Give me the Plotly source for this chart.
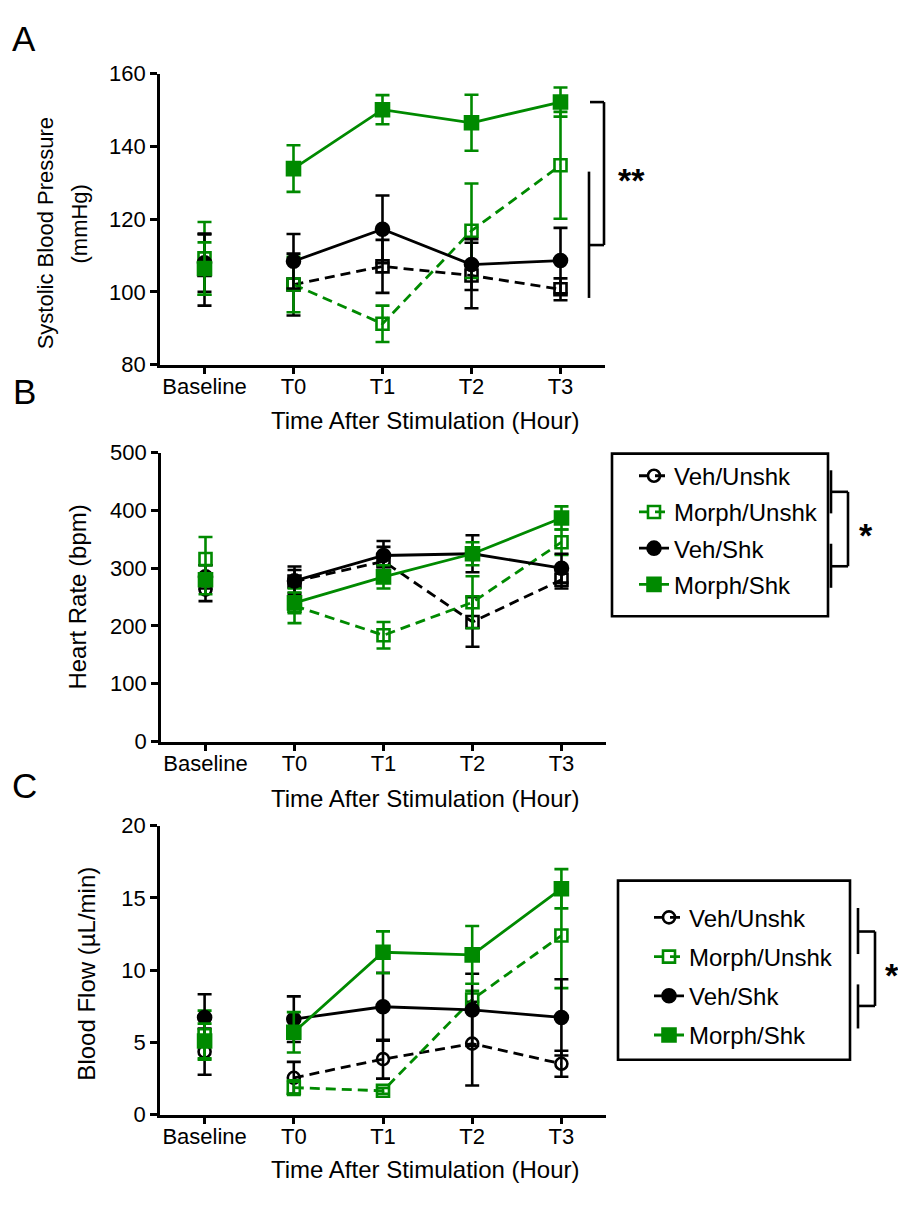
import plotly.graph_objects as go

W, H = 898, 1205
def fx(px):
    return px / W
def fy(py):
    return 1 - py / H

FONT = "Liberation Sans, Arial, sans-serif"

categories = ["Baseline", "T0", "T1", "T2", "T3"]
series = ["Veh/Unshk", "Morph/Unshk", "Veh/Shk", "Morph/Shk"]

# Panel A: Systolic blood pressure (mmHg), mean and SEM
sbp_veh_unshk = [106.0, 102.0, 107.0, 104.5, 100.7]
sbp_veh_unshk_err = [9.8, 8.5, 7.3, 9.0, 3.0]
sbp_morph_unshk = [109.2, 102.0, 91.2, 116.8, 134.8]
sbp_morph_unshk_err = [10.0, 7.6, 5.0, 13.0, 14.7]
sbp_veh_shk = [108.0, 108.4, 117.2, 107.5, 108.6]
sbp_veh_shk_err = [8.0, 7.5, 9.3, 7.0, 9.0]
sbp_morph_shk = [106.4, 133.9, 150.1, 146.5, 152.2]
sbp_morph_shk_err = [7.2, 6.4, 4.0, 7.7, 4.0]

# Panel B: Heart rate (bpm)
hr_veh_unshk = [263, 277, 312, 207, 280]
hr_veh_unshk_err = [20, 20, 25, 43, 15]
hr_morph_unshk = [316, 235, 184, 241, 345]
hr_morph_unshk_err = [38, 30, 23, 45, 22]
hr_veh_shk = [285, 278, 322, 325, 300]
hr_veh_shk_err = [20, 25, 25, 32, 25]
hr_morph_shk = [280, 240, 285, 325, 387]
hr_morph_shk_err = [25, 18, 20, 20, 20]

# Panel C: Blood flow (uL/min)
bf_veh_unshk = [4.36, 2.55, 3.84, 4.92, 3.52]
bf_veh_unshk_err = [1.6, 1.1, 1.35, 2.9, 0.9]
bf_morph_unshk = [5.5, 1.87, 1.65, 7.97, 12.4]
bf_morph_unshk_err = [1.7, 0.5, 0.2, 0.6, 3.64]
bf_veh_shk = [6.73, 6.61, 7.47, 7.25, 6.73]
bf_veh_shk_err = [1.6, 1.58, 2.35, 2.5, 2.64]
bf_morph_shk = [5.1, 5.7, 11.24, 11.06, 15.64]
bf_morph_shk_err = [1.2, 1.4, 1.45, 2.0, 1.36]

GREEN = "#008a00"
BLACK = "#000000"
styles = {
    "Veh/Unshk": dict(color=BLACK, dash="10px,6px", filled=False),
    "Morph/Unshk": dict(color=GREEN, dash="10px,6px", filled=False),
    "Veh/Shk": dict(color=BLACK, dash="solid", filled=True),
    "Morph/Shk": dict(color=GREEN, dash="solid", filled=True),
}

panels = [
    dict(ax="1", legend=None, data=[
        (sbp_veh_unshk, sbp_veh_unshk_err, ["square-open"] * 5),
        (sbp_morph_unshk, sbp_morph_unshk_err, ["square-open"] * 5),
        (sbp_veh_shk, sbp_veh_shk_err, ["circle"] * 5),
        (sbp_morph_shk, sbp_morph_shk_err, ["square"] * 5),
    ]),
    dict(ax="2", legend="legend2", data=[
        (hr_veh_unshk, hr_veh_unshk_err, ["circle-open"] + ["square-open"] * 4),
        (hr_morph_unshk, hr_morph_unshk_err, ["square-open"] * 5),
        (hr_veh_shk, hr_veh_shk_err, ["circle"] * 5),
        (hr_morph_shk, hr_morph_shk_err, ["square"] * 5),
    ]),
    dict(ax="3", legend="legend3", data=[
        (bf_veh_unshk, bf_veh_unshk_err, ["circle-open"] * 5),
        (bf_morph_unshk, bf_morph_unshk_err, ["square-open"] * 5),
        (bf_veh_shk, bf_veh_shk_err, ["circle"] * 5),
        (bf_morph_shk, bf_morph_shk_err, ["square"] * 5),
    ]),
]

def with_break(arr):
    # Baseline is not joined to the time course: insert an empty point after it
    return [arr[0], None] + list(arr[1:])

x_break = [categories[0], categories[0]] + categories[1:]

fig = go.Figure()
for p in panels:
    axn = p["ax"]
    for i, (name, (vals, errs, syms)) in enumerate(zip(series, p["data"])):
        st = styles[name]
        if p["legend"]:
            kw = dict(legend=p["legend"], showlegend=True, legendgroup=p["legend"] + str(i))
        else:
            kw = dict(showlegend=False)
        fig.add_trace(go.Scatter(
            x=x_break, y=with_break(vals), name=name,
            xaxis="x" + ("" if axn == "1" else axn),
            yaxis="y" + ("" if axn == "1" else axn),
            mode="lines+markers", connectgaps=False,
            line=dict(color=st["color"], width=2.8, dash=st["dash"]),
            marker=dict(symbol=[syms[0], syms[0]] + syms[1:],
                        size=13 if st["filled"] else 12,
                        color=st["color"],
                        line=dict(color=st["color"], width=2.6)),
            error_y=dict(type="data", array=with_break(errs), visible=True,
                         color=st["color"], thickness=2.6, width=7),
            cliponaxis=False,
            **kw,
        ))

axis_common = dict(
    showline=True, linecolor="black", linewidth=2.6,
    ticks="outside", ticklen=7, tickwidth=2.6, tickcolor="black",
    showgrid=False, zeroline=False,
    tickfont=dict(family=FONT, size=22, color="black"),
)
xcommon = dict(axis_common, type="category", range=[-0.5, 4.5], ticklabelstandoff=-7)

layout = dict(
    width=W, height=H, margin=dict(l=0, r=0, t=0, b=0),
    paper_bgcolor="white", plot_bgcolor="white",
    font=dict(family=FONT, color="black"),
)
layout["xaxis"] = dict(xcommon, domain=[fx(160), fx(605)], anchor="y")
layout["yaxis"] = dict(axis_common, domain=[fy(360), fy(63)], anchor="x",
                       range=[80, 160], tickvals=[80, 100, 120, 140, 160])
layout["xaxis2"] = dict(xcommon, domain=[fx(161), fx(606)], anchor="y2")
layout["yaxis2"] = dict(axis_common, domain=[fy(745), fy(450)], anchor="x2",
                        range=[0, 500], tickvals=[0, 100, 200, 300, 400, 500])
layout["xaxis3"] = dict(xcommon, domain=[fx(160), fx(606)], anchor="y3")
layout["yaxis3"] = dict(axis_common, domain=[fy(1126), fy(831)], anchor="x3",
                        range=[0, 20], tickvals=[0, 5, 10, 15, 20])

leg_common = dict(font=dict(family=FONT, size=24, color="black"),
                  bgcolor="rgba(0,0,0,0)", borderwidth=0,
                  xanchor="left", yanchor="top", tracegroupgap=2,
                  traceorder="grouped")
layout["legend2"] = dict(leg_common, x=fx(634), y=fy(451))
layout["legend3"] = dict(leg_common, x=fx(649), y=fy(902), tracegroupgap=5)

fig.update_layout(**layout)

lw = 2.6
shapes = [
    dict(type="rect", xref="paper", yref="paper", x0=fx(612), x1=fx(828), y0=fy(617), y1=fy(451),
         line=dict(color="black", width=lw)),
    dict(type="rect", xref="paper", yref="paper", x0=fx(618), x1=fx(850), y0=fy(1070), y1=fy(887),
         line=dict(color="black", width=lw)),
]
def seg(x0, y0, x1, y1):
    shapes.append(dict(type="line", xref="paper", yref="paper",
                       x0=fx(x0), y0=fy(y0), x1=fx(x1), y1=fy(y1),
                       line=dict(color="black", width=lw)))

seg(590, 92, 604, 92); seg(604, 92, 604, 238); seg(589, 238, 604, 238)
seg(589, 163, 589, 292)
seg(831, 468, 831, 512); seg(831, 543, 831, 588)
seg(831, 490, 848, 490); seg(848, 490, 848, 566); seg(831, 566, 848, 566)
seg(858, 915, 858, 962); seg(858, 993, 858, 1038)
seg(858, 939, 875, 939); seg(875, 939, 875, 1015); seg(858, 1015, 875, 1015)
fig.update_layout(shapes=shapes)

def ann(text, x, y, size, bold=False, angle=0):
    fig.add_annotation(text=("<b>%s</b>" % text) if bold else text,
                       xref="paper", yref="paper", x=fx(x), y=fy(y),
                       showarrow=False, xanchor="center", yanchor="middle",
                       textangle=angle,
                       font=dict(family=FONT, size=size, color="black"))

# Axis titles
XT = "Time After Stimulation (Hour)"
ann(XT, 425, 417, 24)
ann(XT, 425, 803, 24)
ann(XT, 425, 1182, 24)
ann("Systolic Blood Pressure", 45, 226, 22, angle=-90)
ann("(mmHg)", 79, 217, 22, angle=-90)
ann("Heart Rate (bpm)", 78, 598, 24, angle=-90)
ann("Blood Flow (µL/min)", 87, 982, 24, angle=-90)

# Panel letters and significance marks
ann("A", 24, 27, 35)
ann("B", 24, 388, 35)
ann("C", 24, 790, 35)
ann("**", 631, 172, 34, bold=True)
ann("*", 866, 534, 34, bold=True)
ann("*", 892, 983, 34, bold=True)

fig.write_html("out.html")
